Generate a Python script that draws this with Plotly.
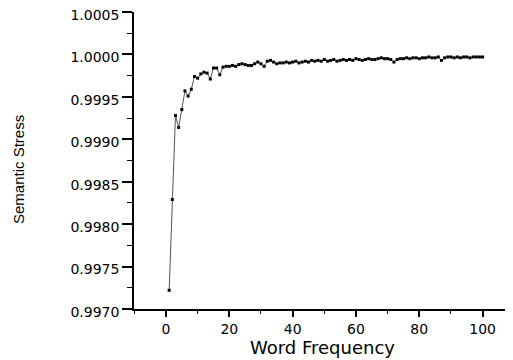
import plotly.graph_objects as go

word_frequency = list(range(1, 101))
semantic_stress = [
    0.99722, 0.99829, 0.99928, 0.99914, 0.99935, 0.99957, 0.99951, 0.99959, 0.99974, 0.99972,
    0.99977, 0.99979, 0.99978, 0.99971, 0.99984, 0.99984, 0.99976, 0.99985, 0.99986, 0.99986,
    0.99987, 0.99986, 0.99988, 0.99989, 0.99988, 0.99987, 0.99987, 0.99989, 0.99991, 0.99989,
    0.99986, 0.99992, 0.99993, 0.99991, 0.99989, 0.99990, 0.99990, 0.99991, 0.99990, 0.99991,
    0.99992, 0.99990, 0.99991, 0.99992, 0.99991, 0.99993, 0.99992, 0.99993, 0.99992, 0.99994,
    0.99992, 0.99993, 0.99994, 0.99992, 0.99993, 0.99994, 0.99993, 0.99994, 0.99993, 0.99995,
    0.99994, 0.99993, 0.99994, 0.99995, 0.99994, 0.99994, 0.99995, 0.99996, 0.99995, 0.99995,
    0.99994, 0.99991, 0.99994, 0.99995, 0.99995, 0.99996, 0.99995, 0.99996, 0.99996, 0.99995,
    0.99996, 0.99996, 0.99997, 0.99996, 0.99996, 0.99997, 0.99993, 0.99996, 0.99997, 0.99997,
    0.99996, 0.99997, 0.99996, 0.99997, 0.99997, 0.99996, 0.99997, 0.99997, 0.99997, 0.99997,
]
y_tick_values = [0.9970, 0.9975, 0.9980, 0.9985, 0.9990, 0.9995, 1.0000, 1.0005]
y_tick_labels = ["0.9970", "0.9975", "0.9980", "0.9985", "0.9990", "0.9995", "1.0000", "1.0005"]
x_tick_values = [0, 20, 40, 60, 80, 100]
x_tick_labels = ["0", "20", "40", "60", "80", "100"]

fig = go.Figure()
fig.add_trace(go.Scatter(
    x=word_frequency, y=semantic_stress, mode="lines+markers",
    line=dict(color="#555555", width=1),
    marker=dict(color="black", size=3, symbol="square"),
    showlegend=False,
))

tick_font = dict(family="DejaVu Sans", size=14, color="black")
fig.update_layout(
    width=505, height=352,
    margin=dict(l=126, r=0, t=4, b=51),
    paper_bgcolor="white", plot_bgcolor="white",
    xaxis=dict(
        range=[-10.1, 109.6], tickmode="array", tickvals=x_tick_values, ticktext=x_tick_labels,
        ticks="outside", ticklen=6, tickwidth=1.5, tickcolor="black",
        minor=dict(dtick=10, tick0=0, ticks="outside", ticklen=3, tickcolor="black", tickwidth=1),
        showline=True, linecolor="black", linewidth=1.5, showgrid=False, zeroline=False,
        tickfont=tick_font,
    ),
    yaxis=dict(
        range=[0.9970, 1.0005], tickmode="array", tickvals=y_tick_values, ticktext=y_tick_labels,
        ticks="outside", ticklen=10, tickwidth=1.5, tickcolor="black",
        minor=dict(dtick=0.00025, tick0=0.997, ticks="outside", ticklen=5, tickcolor="black", tickwidth=1),
        showline=True, linecolor="black", linewidth=1.5, showgrid=False, zeroline=False,
        tickfont=tick_font, ticklabeloverflow="allow", automargin=False, ticklabelshift=3,
    ),
    annotations=[
        dict(
            text="Semantic Stress", textangle=-90, xref="paper", yref="paper",
            x=-116 / 379, y=(301 - 162) / 297, showarrow=False,
            xanchor="center", yanchor="middle",
            font=dict(family="Liberation Sans Narrow, Liberation Sans", size=15, color="black"),
        ),
        dict(
            text="Word Frequency", xref="paper", yref="paper",
            x=(322 - 134) / 379, y=-38 / 297, showarrow=False,
            xanchor="center", yanchor="middle",
            font=dict(family="DejaVu Sans", size=18, color="black"),
        ),
    ],
)
fig.write_html("out.html")
